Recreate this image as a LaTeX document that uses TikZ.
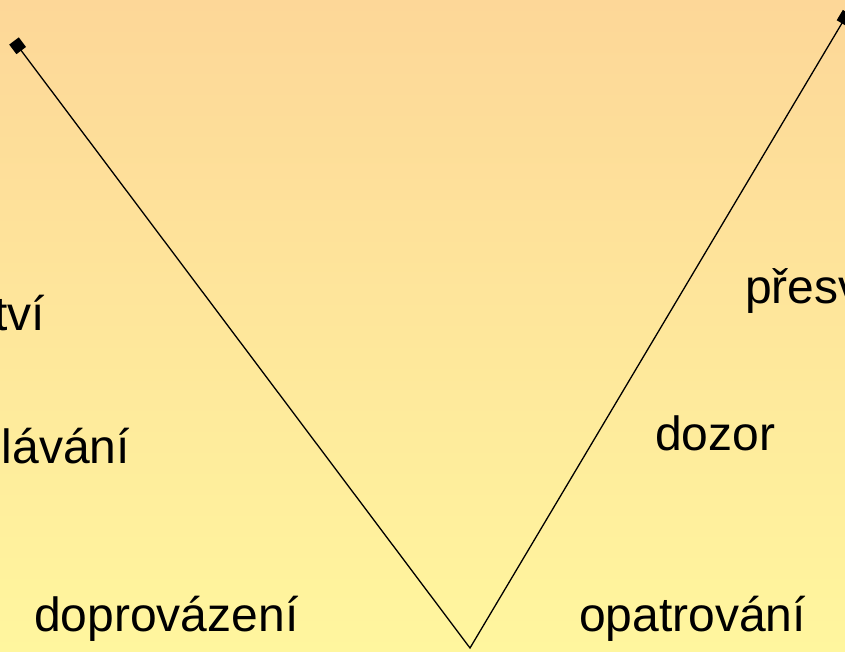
\documentclass[tikz,border=0pt]{standalone}
\usepackage{fontspec}
\setmainfont{Liberation Sans}
\usepackage{tikz}
\usetikzlibrary{arrows.meta,positioning,calc}
\usepackage{xcolor}
\definecolor{bgtop}{RGB}{253,215,152}
\definecolor{bgbottom}{RGB}{255,246,158}

\begin{document}
\begin{tikzpicture}[x=1pt,y=-1pt,
    word/.style={inner sep=0pt,font=\fontsize{48}{57}\selectfont},
    endbox/.tip={Square[length=12pt,width=12pt]}]
    % Background
    \useasboundingbox (0,0) rectangle (845,652);
    \clip (0,0) rectangle (845,652);
    \shade[top color=bgtop,bottom color=bgbottom] (0,0) rectangle (845,652);

    % Corners of the V
    \coordinate (lefttop) at (14,41);
    \coordinate (bottom) at (470,648);
    \coordinate (righttop) at (848,13);
    \draw[line width=1.3pt,endbox-endbox]
        (lefttop) -- (bottom) -- (righttop);

    % Left words
    \node[word,anchor=base east] (tvi) at (45,330) {tví};
    \node[word,anchor=base east] (lavani) at (130,463) {lávání};
    \node[word,anchor=base west] (doprovazeni) at (34,631) {doprovázení};

    % Right words
    \node[word,anchor=base west] (presv) at (745,303) {přesv};
    \node[word,anchor=base west] (dozor) at (655,450) {dozor};
    \node[word,anchor=base west] (opatrovani) at (579,631) {opatrování};
\end{tikzpicture}
\end{document}
